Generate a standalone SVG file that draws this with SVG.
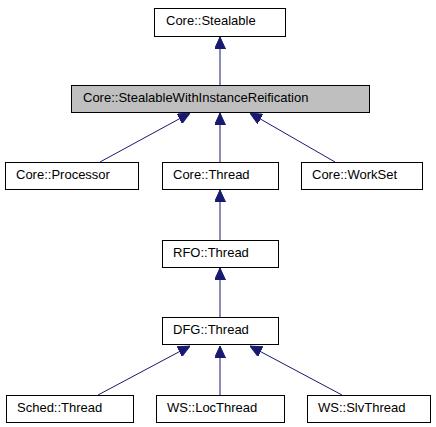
<svg xmlns="http://www.w3.org/2000/svg" width="436" height="427" viewBox="0 0 436 427">
<style>
.box{fill:#ffffff;stroke:#000000;stroke-width:1}
.cur{fill:#bfbfbf;stroke:#000000;stroke-width:1}
text{font-family:"Liberation Sans",Arial,sans-serif;font-size:13px;fill:#000000;text-anchor:start}
.edge{stroke:#191970;stroke-width:1;fill:none;marker-end:url(#arr)}
</style>
<defs>
<marker id="arr" markerUnits="userSpaceOnUse" markerWidth="12" markerHeight="11" refX="12" refY="5.5" orient="auto">
<path d="M0,0 L12,5.5 L0,11 z" fill="#191970" stroke="#191970" stroke-width="1"/>
</marker>
</defs>
<rect width="436" height="427" fill="#ffffff"/>
<g id="connectors">
<line class="edge" x1="220" y1="85" x2="220" y2="37"/>
<line class="edge" x1="100" y1="162" x2="190" y2="113"/>
<line class="edge" x1="220" y1="162" x2="220" y2="113"/>
<line class="edge" x1="335" y1="162" x2="250" y2="113"/>
<line class="edge" x1="220" y1="240" x2="220" y2="190"/>
<line class="edge" x1="220" y1="317" x2="220" y2="268"/>
<line class="edge" x1="98" y1="395" x2="190" y2="346"/>
<line class="edge" x1="220" y1="395" x2="220" y2="346"/>
<line class="edge" x1="342" y1="395" x2="250" y2="346"/>
</g>
<g id="core-stealable"><rect class="box" x="154.5" y="8.5" width="131" height="28"/><text x="166" y="25">Core::Stealable</text></g>
<g id="core-swir"><rect class="cur" x="71.5" y="85.5" width="298" height="27"/><text x="83" y="102">Core::StealableWithInstanceReification</text></g>
<g id="core-processor"><rect class="box" x="5.5" y="162.5" width="133" height="27"/><text x="16" y="179">Core::Processor</text></g>
<g id="core-thread"><rect class="box" x="162.5" y="162.5" width="116" height="27"/><text x="173" y="179">Core::Thread</text></g>
<g id="core-workset"><rect class="box" x="301.5" y="162.5" width="121" height="27"/><text x="312" y="179">Core::WorkSet</text></g>
<g id="rfo-thread"><rect class="box" x="162.5" y="240.5" width="116" height="27"/><text x="173" y="257">RFO::Thread</text></g>
<g id="dfg-thread"><rect class="box" x="162.5" y="317.5" width="116" height="27"/><text x="173" y="334">DFG::Thread</text></g>
<g id="sched-thread"><rect class="box" x="6.5" y="395.5" width="127" height="27"/><text x="17" y="412">Sched::Thread</text></g>
<g id="ws-locthread"><rect class="box" x="156.5" y="395.5" width="128" height="27"/><text x="167" y="412">WS::LocThread</text></g>
<g id="ws-slvthread"><rect class="box" x="307.5" y="395.5" width="123" height="27"/><text x="318" y="412">WS::SlvThread</text></g>
</svg>
